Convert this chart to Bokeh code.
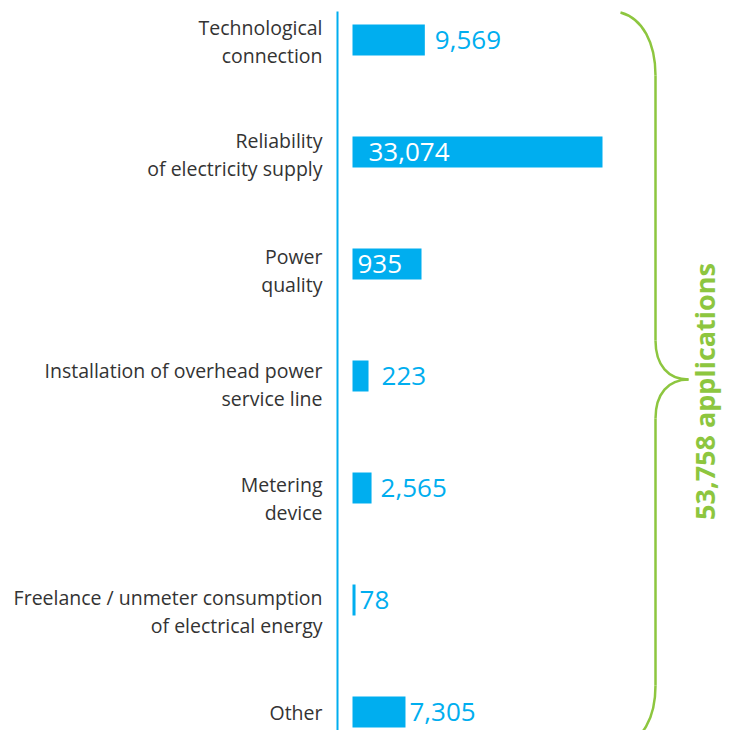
import math
from bokeh.plotting import figure
from bokeh.models import Range1d, ColumnDataSource
from bokeh.core.properties import value
from bokeh.embed import file_html
from bokeh.resources import INLINE

# ---------------- data ----------------
categories = [
    "Technological\nconnection",
    "Reliability\nof electricity supply",
    "Power\nquality",
    "Installation of overhead power\nservice line",
    "Metering\ndevice",
    "Freelance / unmeter consumption\nof electrical energy",
    "Other",
]
applications = [9569, 33074, 935, 223, 2565, 78, 7305]
value_labels = ["9,569", "33,074", "935", "223", "2,565", "78", "7,305"]
# bar lengths as drawn in the source graphic (same units as applications;
# the small categories are drawn enlarged there)
drawn_lengths = [9569, 33074, 9130, 2120, 2520, 400, 7010]
total_label = "53,758 applications"

# ---------------- styles ----------------
BLUE = "#00aeef"
GREEN = "#8dc63f"
GREY = "#333333"
label_inside = [False, True, True, False, False, False, False]
label_offset = [10, 16, 5, 13, 9, 4, 4]          # px
cat_label_dy = [1.5, 2.5, 6.5, 8.5, 10.5, 11.5, 0]  # px (down)

W, H = 723, 730
PX_PER_UNIT = 250.0 / 33074.0
BAR_LEFT_PX = 352
ROW0_PX = 39.5
PITCH = 112.0

x0 = -BAR_LEFT_PX / PX_PER_UNIT
x1 = x0 + W / PX_PER_UNIT
y_top = -ROW0_PX / PITCH
y_bot = (H - ROW0_PX) / PITCH


def sx(px):
    return x0 + px / PX_PER_UNIT


def sy(py):
    return (py - ROW0_PX) / PITCH


p = figure(width=W, height=H, output_backend="svg", toolbar_location=None,
           x_range=Range1d(x0, x1), y_range=Range1d(y_bot, y_top),
           min_border=0, outline_line_color=None)
p.axis.visible = False
p.grid.visible = False
p.background_fill_color = "white"
p.border_fill_color = "white"

rows = list(range(len(categories)))
src = ColumnDataSource(dict(
    y=rows,
    cat=categories,
    ylab=[r + d / PITCH for r, d in zip(rows, cat_label_dy)],
    length=drawn_lengths,
    label=value_labels,
))

# vertical axis line
p.segment(x0=[sx(337)], y0=[sy(11)], x1=[sx(337)], y1=[sy(760)],
          line_color=BLUE, line_width=2)

# bars
p.hbar(y="y", left=0, right="length", height=31 / PITCH, source=src,
       fill_color=BLUE, line_color=None)

# category labels
p.text(x=sx(322), y="ylab", text="cat", source=src, text_align="right",
       text_baseline="middle", text_font=value("Open Sans"),
       text_font_size="19.5px", text_color=GREY, text_line_height=1.03)

# value labels
out_idx = [i for i in rows if not label_inside[i]]
in_idx = [i for i in rows if label_inside[i]]
p.text(x=[drawn_lengths[i] for i in out_idx], y=[rows[i] for i in out_idx],
       text=[value_labels[i] for i in out_idx],
       x_offset=[label_offset[i] for i in out_idx],
       text_align="left", text_baseline="middle", text_font=value("Open Sans"),
       text_font_size="26px", text_color=BLUE)
p.text(x=[0 for i in in_idx], y=[rows[i] for i in in_idx],
       text=[value_labels[i] for i in in_idx],
       x_offset=[label_offset[i] for i in in_idx],
       text_align="left", text_baseline="middle", text_font=value("Open Sans"),
       text_font_size="26px", text_color="white")

# curly brace (screen-pixel design converted to data space)
segs = [
    ((620, 12), (642, 18), (655, 42), (655, 75)),
    ((655, 340), (655, 365), (668, 379), (688, 379)),
    ((688, 379), (668, 379), (655, 393), (655, 418)),
    ((655, 685), (655, 718), (642, 740), (620, 746)),
]
p.bezier(x0=[sx(s[0][0]) for s in segs], y0=[sy(s[0][1]) for s in segs],
         cx0=[sx(s[1][0]) for s in segs], cy0=[sy(s[1][1]) for s in segs],
         cx1=[sx(s[2][0]) for s in segs], cy1=[sy(s[2][1]) for s in segs],
         x1=[sx(s[3][0]) for s in segs], y1=[sy(s[3][1]) for s in segs],
         line_color=GREEN, line_width=2.5)
p.segment(x0=[sx(655), sx(655)], y0=[sy(75), sy(418)],
          x1=[sx(655), sx(655)], y1=[sy(340), sy(685)],
          line_color=GREEN, line_width=2.5)

p.text(x=[sx(704)], y=[sy(391)], text=[total_label], angle=math.pi / 2,
       text_align="center", text_baseline="middle",
       text_font=value("Open Sans"), text_font_style="bold",
       text_font_size="27px", text_color=GREEN)

open("out.html", "w").write(file_html(p, INLINE))
